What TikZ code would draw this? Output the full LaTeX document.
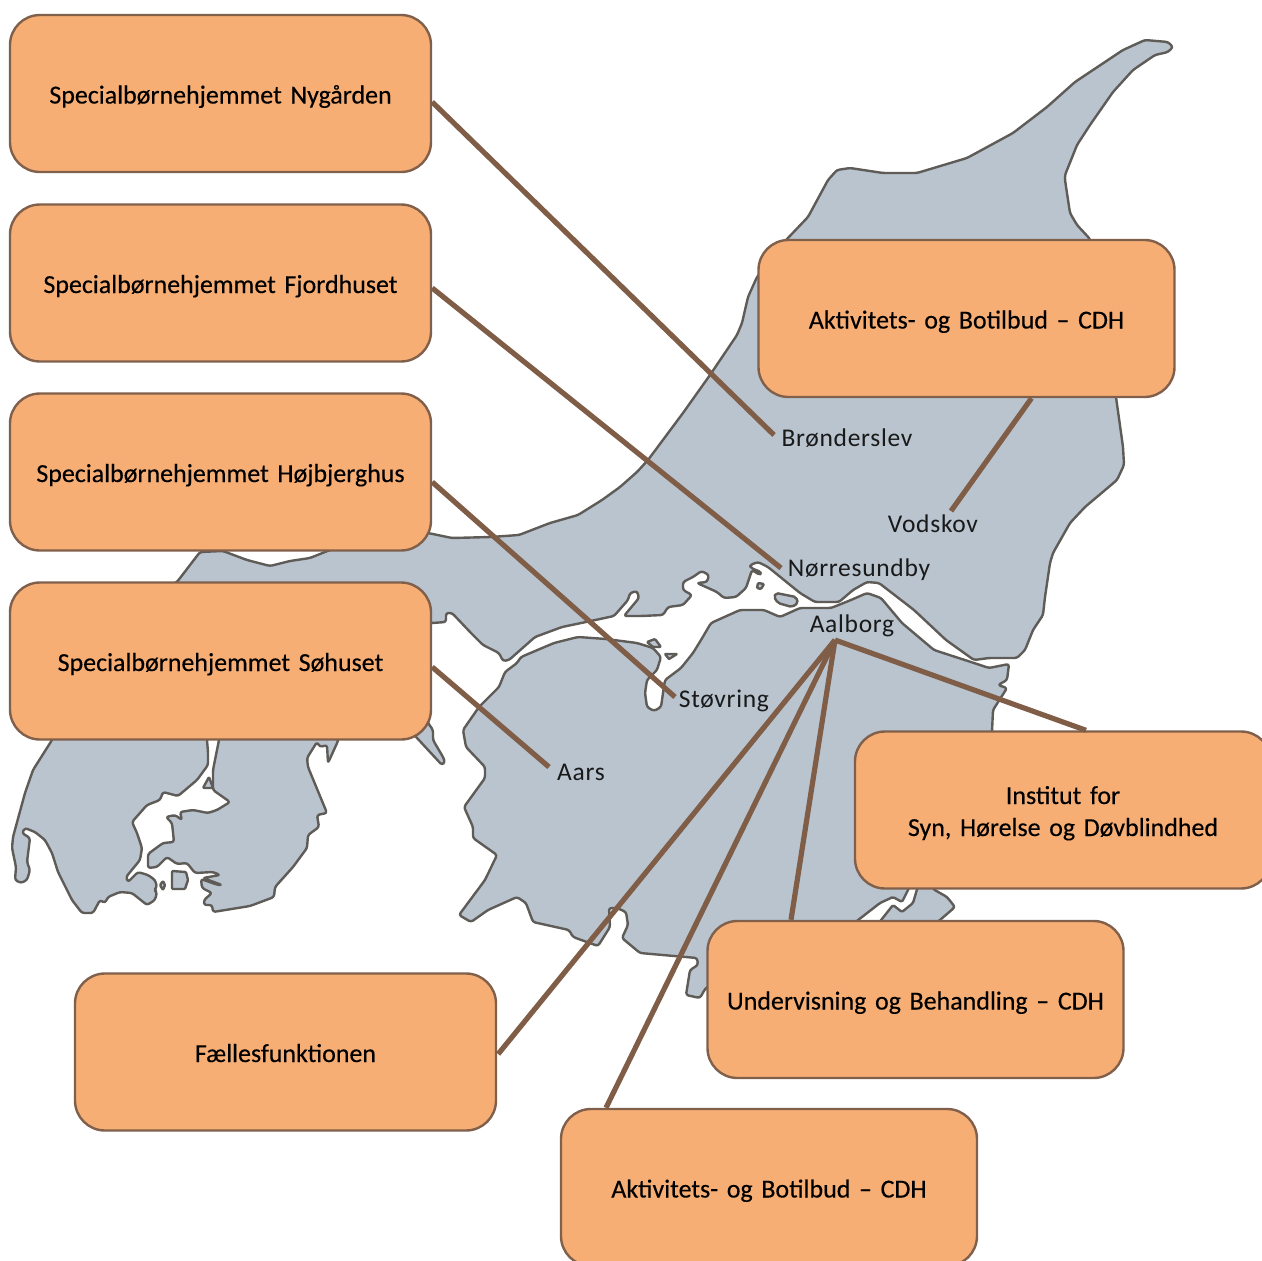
\documentclass[tikz,border=0pt]{standalone}
\usepackage{fontspec}
\setmainfont{Carlito}
\newfontfamily\boxfont{Carlito}[FakeBold=0.3,WordSpace=0.72]
\newfontfamily\labfont{Carlito}[LetterSpace=2.8]
\usetikzlibrary{calc}
\definecolor{landfill}{HTML}{B9C4CF}
\definecolor{landedge}{HTML}{5F5C58}
\definecolor{boxfill}{HTML}{F7AE75}
\definecolor{boxedge}{HTML}{80604B}
\definecolor{linkcol}{HTML}{7F5D46}
\tikzset{
  land/.style={fill=landfill,draw=landedge,line width=2.4pt,line join=round,rounded corners=2.5pt},
  water/.style={fill=white,draw=landedge,line width=2.4pt,line join=round,rounded corners=1.5pt},
  place/.style={rectangle,rounded corners=30pt,fill=boxfill,draw=boxedge,line width=2.4pt,
    text width=410pt,align=center,minimum height=157pt,inner sep=0pt,font=\boxfont\fontsize{25.95}{32}\selectfont,
    text height=26pt,text depth=6pt},
  widebox/.style={place,minimum width=421pt},
  narrowbox/.style={place,minimum width=416pt},
  town/.style={font=\labfont\fontsize{25.5}{30}\selectfont,inner sep=0pt,text=black!90},
  link/.style={draw=linkcol,line width=5.2pt}
}
\begin{document}
\begin{tikzpicture}[x=1pt,y=-1pt]
\clip (0,0) rectangle (1262,1261);
\fill[white] (0,0) rectangle (1262,1261);
% west + north land
\path[land] (177,582)--(100,620)--(52,740)--(33,770)--(25,793)--(13,837)--(12,848)--(16,867)--(15,880)--(21,883)--(27,880)--(30,870)--(27,862)--(30,838)--(22,833)--(25,828)--(35,832)--(45,840)--(52,853)--(58,872)--(72,900)--(82,913)--(93,913)--(100,900)--(105,903)--(108,897)--(120,892)--(132,893)--(147,905)--(155,900)--(157,892)--(154,890)--(157,887)--(155,880)--(148,875)--(138,872)--(128,882)--(126,877)--(140,860)--(142,848)--(137,833)--(132,822)--(147,805)--(160,800)--(163,792)--(178,796)--(197,780)--(208,765)--(208,752)--(207,740)--(207,720)--(220,720)--(219,740)--(213,770)--(213,790)--(230,802)--(217,810)--(208,813)--(193,810)--(180,812)--(182,820)--(175,815)--(166,817)--(172,823)--(174,842)--(163,843)--(148,854)--(148,868)--(157,867)--(167,857)--(177,864)--(187,863)--(195,873)--(213,872)--(220,875)--(203,878)--(222,885)--(218,885)--(201,879)--(202,888)--(212,893)--(204,900)--(204,905)--(212,905)--(213,912)--(250,906)--(274,897)--(275,887)--(293,867)--(307,848)--(308,835)--(319,827)--(317,815)--(327,813)--(308,767)--(307,758)--(317,742)--(320,747)--(327,745)--(328,763)--(338,741)--(340,720)--(400,720)--(417,738)--(442,765)--(445,762)--(443,757)--(433,740)--(433,730)--(428,723)--(425,700)--(425,623)--(432,623)--(446,622)--(446,613)--(452,613)--(471,633)--(483,645)--(499,653)--(503,661)--(509,660)--(535,637)--(562,627)--(586,622)--(614,616)--(628,600)--(630,593)--(637,591)--(639,598)--(624,616)--(641,616)--(663,615)--(668,607)--(683,605)--(692,595)--(683,590)--(683,582)--(693,577)--(701.5,571)--(709,575)--(707,582)--(697,583)--(717,592)--(724,598)--(736,597)--(746,588)--(752,570)--(760,575)--(761,572)--(751,568)--(750,565)--(758,562)--(768,567)--(800,593)--(815,602)--(839,602)--(853,590)--(867,582)--(879,583)--(914,610)--(946,640)--(974,660)--(989,658)--(1017,658)--(1025,650)--(1033,630)--(1043,615)--(1045,597)--(1050,563)--(1053,553)--(1070,523)--(1085,507)--(1117,480)--(1124,465)--(1123,447)--(1116,397)--(1100,300)--(1090,239)--(1077,225)--(1070,213)--(1065,180)--(1065,175)--(1077,145)--(1090,125)--(1113,92)--(1133,70)--(1155,55)--(1168,52)--(1173,47)--(1168,42)--(1145,40)--(1123,50)--(1093,70)--(1075,82)--(1047,107)--(1013,133)--(967,158)--(917,173)--(883,173)--(850,168)--(837,170)--(828,180)--(808,217)--(787,239)--(770,260)--(757,277)--(748,297)--(742,323)--(737,335)--(710,375)--(683,413)--(648,460)--(637,472)--(620,487)--(602,500)--(578,515)--(550,523)--(519,535)--(491,537)--(452,538)--(428,533)--(400,535)--(330,550)--(310,558)--(290,561)--(270,566)--(247,560)--(223,551)--(200,552)--cycle;
% south land
\path[land] (517,663)--(521,657)--(554,643)--(578,637)--(606,639)--(637,643)--(653,648)--(661,657)--(657,670)--(647,680)--(645,693)--(647,707)--(654,711)--(661,707)--(663,693)--(665,680)--(681,668)--(693,653)--(701,640)--(711,623)--(740,610)--(764,610)--(780,617)--(800,608)--(831,608)--(851,600)--(867,593)--(881,598)--(902,623)--(934,650)--(974,663)--(989,668)--(1009,664)--(1007,680)--(998,685)--(1007,688)--(993,710)--(992,732)--(990,800)--(930,880)--(933,889)--(947,897)--(955,907)--(940,920)--(900,950)--(710,985)--(705,989)--(700,998)--(686,995)--(690,970)--(698,965)--(697,958)--(640,953)--(622,938)--(628,925)--(626,912)--(617,908)--(609,908)--(610,927)--(598,946)--(573,937)--(569,930)--(533,922)--(526,903)--(517,897)--(488,910)--(471,922)--(459,915)--(485,880)--(497,855)--(473,838)--(473,827)--(464,807)--(485,778)--(485,767)--(466,747)--(463,730)--(479,707)--(499,687)--(505,672)--cycle;
% inlet in the south-east
\path[water] (853,924)--(880,903)--(893,897)--(902,902)--(910,886)--(918,886)--(913,903)--(902,912)--(893,905)--(878,924)--cycle;
% islands
\path[land,rounded corners=1pt] (203,788)--(209,777)--(213,788)--cycle;
\path[land,rounded corners=1pt] (172,871)--(186,872)--(188,880)--(185,889)--(172,889)--cycle;
\path[land,rounded corners=1pt] (160,885)--(163,881)--(165,885)--(163,890)--cycle;
\path[land,rounded corners=1pt] (647,642)--(655,639)--(661,647)--(653,647)--cycle;
\path[land,rounded corners=0.5pt] (665,654)--(677,654)--(669,659)--cycle;
\path[land,rounded corners=1pt] (758,583)--(764,584)--(761,589)--(757,588)--cycle;
\path[land,rounded corners=2pt] (774,597)--(776,593)--(796,597)--(798,603)--(792,607)--(778,603)--cycle;
% boxes
\node[widebox] (nygaarden) at (220.5,93.5) {Specialbørnehjemmet Nygården};
\node[widebox] (fjordhuset) at (220.5,283) {Specialbørnehjemmet Fjordhuset};
\node[widebox] (hoejbjerg) at (220.5,472) {Specialbørnehjemmet Højbjerghus};
\node[widebox] (soehuset) at (220.5,661) {Specialbørnehjemmet Søhuset};
\node[narrowbox] (cdhnorth) at (966.5,318.5) {Aktivitets- og Botilbud – CDH};
\node[narrowbox,text depth=38pt] (institut) at (1063,810) {Institut for\\Syn, Hørelse og Døvblindhed};
\node[narrowbox] (undervis) at (915.5,999.5) {Undervisning og Behandling – CDH};
\node[widebox] (faelles) at (285.5,1052) {Fællesfunktionen};
\node[narrowbox] (cdhsouth) at (769,1187.5) {Aktivitets- og Botilbud – CDH};
% towns
\node[town] (broenderslev) at (847,438.5) {Brønderslev};
\node[town] (vodskov) at (933,523.5) {Vodskov};
\node[town] (noerresundby) at (859,569.5) {Nørresundby};
\node[town] (aalborg) at (852,625.5) {Aalborg};
\node[town] (stoevring) at (724,700.5) {Støvring};
\node[town] (aars) at (581,772) {Aars};
% connector ends
\coordinate (endB) at (774,435);
\coordinate (endN) at (781,568);
\coordinate (endS) at (675,697);
\coordinate (endA) at (549,767);
\coordinate (endV) at (951,511);
\coordinate (hub) at (835,640);
% connectors
\draw[link] ($(nygaarden.east)+(0,8.5)$) -- (endB);
\draw[link] ($(fjordhuset.east)+(0,5)$) -- (endN);
\draw[link] ($(hoejbjerg.east)+(0,10)$) -- (endS);
\draw[link] ($(soehuset.east)+(0,6)$) -- (endA);
\draw[link] ($(cdhnorth.south)+(65,0)$) -- (endV);
\draw[link] (hub) -- ($(institut.north)+(23,0)$);
\draw[link] (hub) -- ($(undervis.north)+(-124.5,0)$);
\draw[link] (hub) -- ($(cdhsouth.north)+(-163,0)$);
\draw[link] (hub) -- ($(faelles.east)+(1,2)$);
\end{tikzpicture}
\end{document}
